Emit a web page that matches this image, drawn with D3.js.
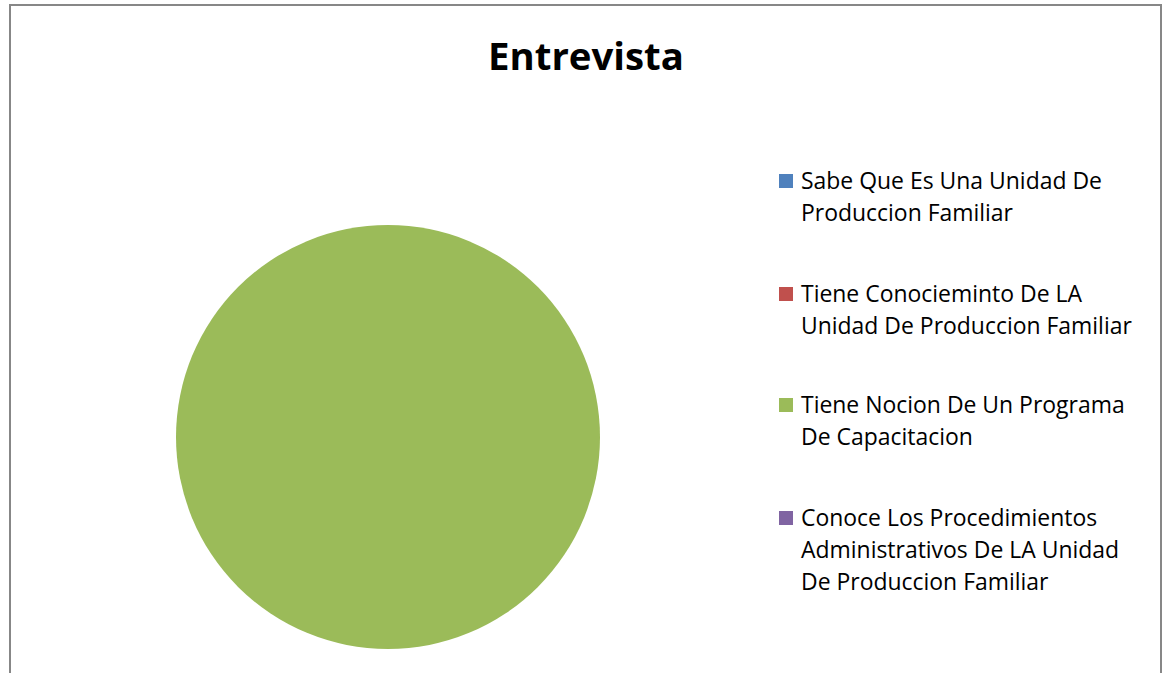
<!DOCTYPE html>
<html>
<head>
<meta charset="utf-8">
<script src="https://cdn.jsdelivr.net/npm/d3@7"></script>
<style>
  html, body { margin: 0; padding: 0; background: #fff; }
  svg { display: block; font-family: "Open Sans", "Noto Sans", sans-serif; }
</style>
</head>
<body>
<svg id="viz"></svg>
<script>
// data
const title = "Entrevista";
const categories = [
  "Sabe Que Es Una Unidad De Produccion Familiar",
  "Tiene Conocieminto De LA Unidad De Produccion Familiar",
  "Tiene Nocion De Un Programa De Capacitacion",
  "Conoce Los Procedimientos Administrativos De LA Unidad De Produccion Familiar"
];
// legend lines as wrapped in the original
const legendLines = [
  ["Sabe Que Es Una Unidad De", "Produccion Familiar"],
  ["Tiene Conocieminto De LA", "Unidad De Produccion Familiar"],
  ["Tiene Nocion De Un Programa", "De Capacitacion"],
  ["Conoce Los Procedimientos", "Administrativos De LA Unidad", "De Produccion Familiar"]
];
const values = [0, 0, 100, 0];
const colors = ["#4F81BD", "#C0504D", "#9BBB59", "#8064A2"];

// 1. svg
const width = 1167, height = 673;
const svg = d3.select("#viz").attr("width", width).attr("height", height);

// chart border (bottom edge is off the picture)
svg.append("path")
   .attr("d", "M10,680 L10,5 L1161,5 L1161,680")
   .attr("fill", "none")
   .attr("stroke", "#878787")
   .attr("stroke-width", 2);

// 2. title
const t = svg.append("text")
   .attr("x", 586)
   .attr("y", 70)
   .attr("text-anchor", "middle")
   .attr("font-weight", "bold")
   .attr("font-size", 34)
   .attr("fill", "#000")
   .text(title);
// fit to width of the original title
const tw = t.node().getComputedTextLength();
t.attr("font-size", 34 * 196 / tw);

// 3. pie
const color = d3.scaleOrdinal().domain(categories).range(colors);
const pie = d3.pie().sort(null).value(d => d.value);
const arc = d3.arc().innerRadius(0).outerRadius(212);
const data = categories.map((c, i) => ({ name: c, value: values[i] }));

svg.append("g")
   .attr("transform", "translate(388,437)")
   .selectAll("path")
   .data(pie(data).filter(d => d.value > 0))
   .enter()
   .append("path")
   .attr("d", arc)
   .attr("fill", d => color(d.data.name));

// 4. legend
const legendY = [181, 294, 405, 518];
const lineH = 32;
const legend = svg.append("g");

// measure the font size so the first line matches the original width
const probe = legend.append("text").attr("font-size", 20).text(legendLines[0][0]);
const fs = 20 * 301 / probe.node().getComputedTextLength();
probe.remove();

const items = legend.selectAll("g.item")
   .data(categories)
   .enter()
   .append("g")
   .attr("class", "item")
   .attr("transform", (d, i) => "translate(0," + legendY[i] + ")");

items.append("rect")
   .attr("x", 779)
   .attr("y", -7)
   .attr("width", 14)
   .attr("height", 14)
   .attr("fill", d => color(d));

items.append("text")
   .attr("font-size", fs)
   .attr("fill", "#000")
   .selectAll("tspan")
   .data((d, i) => legendLines[i])
   .enter()
   .append("tspan")
   .attr("x", 801)
   .attr("y", (d, j) => j * lineH + 8)
   .text(d => d);
</script>
</body>
</html>
